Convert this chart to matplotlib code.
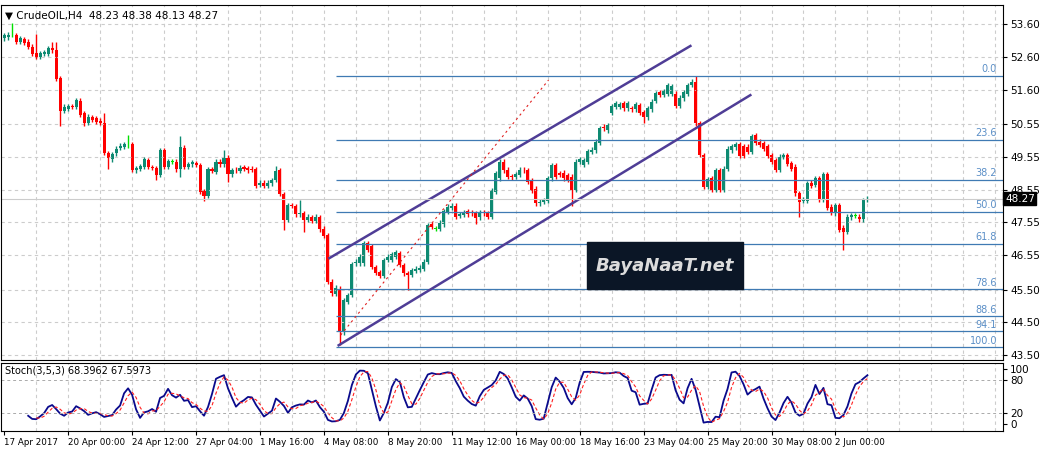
import matplotlib
matplotlib.use("Agg")
import matplotlib.pyplot as plt
import numpy as np
from matplotlib.patches import Rectangle

opens = [53.16,53.19,53.26,53.26,53.06,53.13,53.06,52.91,52.72,52.60,52.70,52.70,52.86,52.82,51.94,50.95,51.01,51.10,51.08,51.26,
50.87,50.59,50.75,50.73,50.65,50.57,49.67,49.47,49.65,49.83,49.86,49.90,49.94,49.14,49.19,49.24,49.45,49.24,49.21,48.99,
49.75,49.24,49.40,49.40,49.17,49.83,49.24,49.32,49.35,49.30,48.50,48.35,49.17,49.09,49.40,49.32,49.52,49.01,49.16,49.12,
49.24,49.21,49.19,49.17,48.69,48.76,48.67,48.74,48.84,49.14,48.41,47.62,48.08,48.05,47.79,47.82,47.62,47.70,47.60,47.70,
47.36,47.16,45.74,45.36,45.50,44.19,45.13,45.33,46.30,46.30,46.30,46.91,46.83,46.19,46.04,45.91,46.40,46.40,46.50,46.62,
46.25,45.99,45.94,46.07,46.09,46.14,46.35,47.50,47.36,47.36,47.49,47.87,48.00,48.06,47.74,47.77,47.89,47.87,47.82,47.70,
47.87,47.82,47.72,48.48,48.89,49.40,49.16,48.96,48.94,48.99,49.16,49.14,48.82,48.58,48.13,48.18,48.21,48.89,49.30,49.04,
49.07,48.99,48.94,48.53,49.40,49.30,49.40,49.70,49.75,49.98,50.47,50.36,50.89,51.08,51.08,51.18,51.03,51.03,51.00,51.13,
50.92,50.75,51.00,51.26,51.53,51.43,51.48,51.48,51.48,51.10,51.33,51.48,51.74,51.84,50.57,49.60,48.64,48.89,48.53,49.14,
48.53,49.19,49.75,49.84,49.94,49.88,49.86,49.70,50.21,50.01,49.96,49.88,49.60,49.45,49.16,49.55,49.60,49.35,49.25,48.43,
48.21,48.21,48.76,48.69,48.89,48.23,49.01,48.03,47.82,48.07,47.39,47.26,47.70,47.75,47.72,47.64,48.23]
closes = [53.26,53.28,53.27,53.06,53.16,53.03,52.91,52.70,52.60,52.72,52.75,52.86,52.80,51.92,50.95,51.08,51.10,51.08,51.28,50.82,
50.57,50.77,50.67,50.62,50.59,49.67,49.52,49.62,49.80,49.89,49.94,49.91,49.16,49.21,49.26,49.48,49.24,49.21,48.99,49.75,
49.24,49.42,49.41,49.17,49.86,49.24,49.32,49.38,49.30,48.48,48.35,49.17,49.12,49.40,49.32,49.52,49.01,49.14,49.14,49.22,
49.19,49.14,49.16,48.67,48.76,48.66,48.76,48.84,49.11,48.41,47.62,48.08,48.05,47.79,47.84,47.62,47.72,47.60,47.72,47.34,
47.14,45.74,45.38,45.56,44.19,45.18,45.33,46.28,46.35,46.50,46.91,46.70,46.19,46.01,45.91,46.40,46.50,46.58,46.65,46.25,
45.99,45.94,46.09,46.14,46.17,46.35,47.47,47.41,47.37,47.54,47.90,48.03,48.06,47.72,47.80,47.87,47.79,47.82,47.67,47.87,
47.82,47.72,48.53,49.04,49.40,49.14,48.94,48.92,49.02,49.16,49.14,48.79,48.51,48.13,48.18,48.23,48.89,49.30,48.94,48.99,
48.89,48.84,48.53,49.40,49.47,49.45,49.73,49.77,50.01,50.42,50.42,50.52,51.10,51.18,51.16,51.03,51.18,51.00,51.15,50.89,
50.75,51.03,51.23,51.50,51.43,51.56,51.74,51.71,51.10,51.35,51.53,51.74,51.84,50.57,49.60,48.64,48.86,48.53,49.14,48.53,
49.19,49.80,49.88,49.94,49.57,49.57,49.70,50.18,49.98,49.91,49.80,49.57,49.40,49.16,49.55,49.60,49.33,49.19,48.43,48.18,
48.25,48.74,48.66,48.89,48.23,49.01,48.00,47.84,48.07,47.33,47.26,47.72,47.77,47.76,47.64,48.23,48.27]
# notable wick extremes: index -> (high, low)
long_wicks = {2:(53.62,None),8:(53.31,None),12:(53.06,None),13:(53.06,None),14:(None,50.49),25:(50.89,None),26:(None,49.19),
31:(50.21,None),38:(None,48.84),44:(50.18,48.92),50:(None,48.20),55:(49.75,None),56:(None,48.79),68:(49.27,None),
70:(None,47.31),74:(48.22,None),75:(None,47.27),84:(45.60,43.80),101:(None,45.48),118:(None,47.50),142:(None,48.05),
160:(None,50.57),173:(52.01,None),199:(None,47.70),210:(None,46.72)}
date_labels = ["17 Apr 2017","20 Apr 00:00","24 Apr 12:00","27 Apr 04:00","1 May 16:00","4 May 08:00","8 May 20:00",
"11 May 12:00","16 May 00:00","18 May 16:00","23 May 04:00","25 May 20:00","30 May 08:00","2 Jun 00:00"]
price_ticks = [53.60,52.60,51.60,50.55,49.55,48.55,47.55,46.55,45.50,44.50,43.50]
fib_levels = ["0.0","23.6","38.2","50.0","61.8","78.6","88.6","94.1","100.0"]
fib_high, fib_low = 52.01, 43.74

n = len(closes)
idx = np.arange(n)
o = np.array(opens); c = np.array(closes)
hi = np.maximum(o, c) + 0.07
lo = np.minimum(o, c) - 0.07
for k, (h, l) in long_wicks.items():
    if h is not None: hi[k] = h
    if l is not None: lo[k] = l

fig = plt.figure(figsize=(10.53, 4.51), dpi=100)
ax = fig.add_axes([1/1053, 1-360/451, 1002/1053, 355/451])
ax2 = fig.add_axes([1/1053, 1-431/451, 1002/1053, 68/451])
xmax = (1003-3.3)/4
grid_x = np.arange(8, xmax, 8)
for a in (ax, ax2):
    a.set_xlim(-0.8, xmax)
    a.yaxis.tick_right()
    a.tick_params(axis='y', labelsize=7.5, length=3, pad=2)
    for s in a.spines.values():
        s.set_color('black')
    for gx in grid_x:
        a.axvline(gx, color='#cccccc', ls=(0, (3, 3)), lw=0.8, zorder=0)
ax.set_ylim(43.35, 54.18)
ax.set_yticks(price_ticks)
ax.set_yticklabels([f"{p:.2f}" for p in price_ticks])
ax.set_xticks([])
ax.grid(axis='y', color='#cccccc', ls=(0, (3, 3)), lw=0.8)

red, teal, lime = '#ff0000', '#0e8a72', '#00e000'
for i in idx:
    if abs(c[i]-o[i]) < 0.015:
        col = lime
    else:
        col = teal if c[i] > o[i] else red
    ax.vlines(i, lo[i], hi[i], color=col, lw=1)
    b0 = min(o[i], c[i]); bh = max(abs(c[i]-o[i]), 0.02)
    ax.add_patch(Rectangle((i-0.38, b0), 0.76, bh, color=col, lw=0))

# fibonacci
fstart = 83
for lab in fib_levels:
    lv = fib_high - float(lab)/100*(fib_high-fib_low)
    ax.hlines(lv, fstart, xmax, color='#3f7ab3', lw=0.9)
    ax.text(xmax-1.5, lv+0.05, lab, color='#5b8fc7', fontsize=7, ha='right', va='bottom')
# channels
ax.plot([81.4, 171.7], [46.46, 52.93], color='#4f3d96', lw=1.8)
ax.plot([83.7, 186.7], [43.80, 51.43], color='#4f3d96', lw=1.8)
ax.plot([84.2, 136.2], [44.11, 51.89], color='#e02020', lw=0.8, ls=(0, (2, 3)))
# current price
ax.axhline(closes[-1], color='#cccccc', lw=0.8)
ax.text(1.002, closes[-1], f"{closes[-1]:.2f}", transform=ax.get_yaxis_transform(), fontsize=7.5,
        color='white', va='center', ha='left', bbox=dict(boxstyle='square,pad=0.15', fc='black', ec='black'))
# watermark
fig.patches.append(Rectangle((587/1053, 1-289/451), 156/1053, 47/451, transform=fig.transFigure,
                             color='#0b1626', zorder=5))
fig.text(665/1053, 1-266/451, "BayaNaaT.net", color='#dcdcdc', fontsize=13, fontweight='bold',
         fontstyle='italic', ha='center', va='center', zorder=6)
ax.text(0.004, 0.985, "\u25bc CrudeOIL,H4  48.23 48.38 48.13 48.27", transform=ax.transAxes,
        fontsize=7.5, va='top', ha='left')

# stochastic (5,3,3) computed from the candles
raw = np.full(n, np.nan)
for i in range(4, n):
    hh = hi[i-4:i+1].max(); ll = lo[i-4:i+1].min()
    raw[i] = 100*(c[i]-ll)/(hh-ll)
def sma(x, k):
    out = np.full(len(x), np.nan)
    for i in range(k-1, len(x)):
        out[i] = np.mean(x[i-k+1:i+1])
    return out
kline = sma(raw, 3); dline = sma(kline, 3)
ax2.plot(idx, kline, color='#0a0a8c', lw=1.3)
ax2.plot(idx, dline, color='#ff2020', lw=0.8, ls=(0, (3, 2)))
ax2.set_ylim(-12, 111)
ax2.set_yticks([0, 20, 80, 100])
ax2.set_yticklabels(["0", "20", "80", "100"])
for v in (20, 80):
    ax2.axhline(v, color='#aaaaaa', ls=(0, (3, 3)), lw=0.7)
ax2.text(0.004, 0.96, "Stoch(3,5,3) 68.3962 67.5973", transform=ax2.transAxes, fontsize=7, va='top')
ax2.set_xticks(np.arange(0, 16*len(date_labels), 16))
ax2.set_xticklabels(date_labels, fontsize=6.3, ha='left')
ax2.tick_params(axis='x', length=3, pad=2)
fig.savefig("out.png", dpi=100)
